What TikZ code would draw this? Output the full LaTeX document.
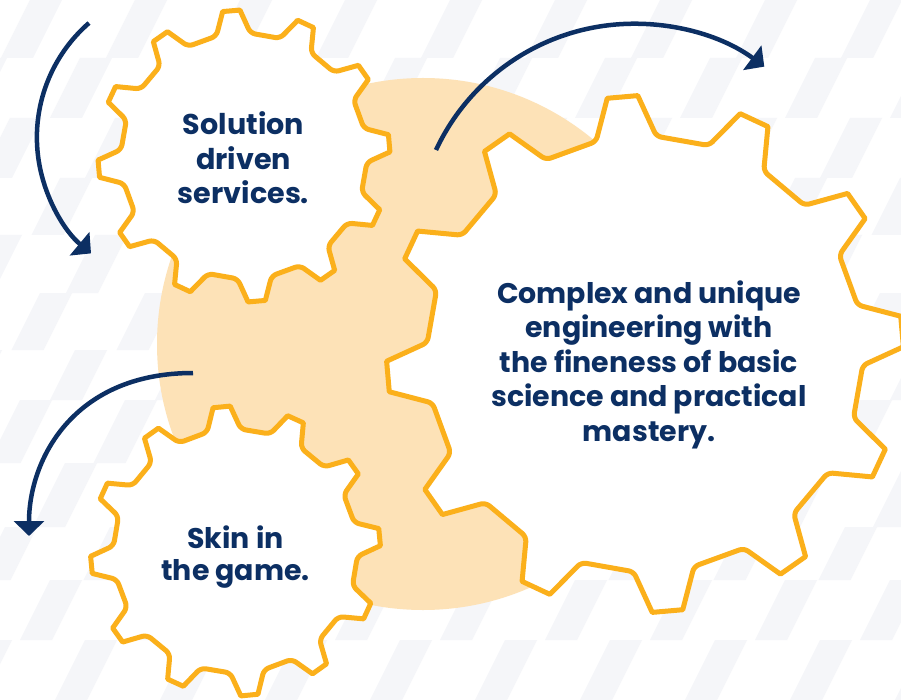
\documentclass[tikz,border=0pt]{standalone}
\usepackage{fontspec}
\setmainfont{Poppins}
\usetikzlibrary{arrows.meta}
\definecolor{gearor}{HTML}{FBB01B}
\definecolor{peach}{HTML}{FDE2B7}
\definecolor{navy}{HTML}{0C2F63}
\definecolor{stripe}{HTML}{F5F6F9}
% gear: #1 cx, #2 cy, #3 r outer, #4 r inner, #5 angle offset
\newcommand{\gp}[3]{({#1+#3*cos(#2)}, {\gcy-#3*sin(#2)})}
\newcommand{\drawgear}[5]{%
  \def\gcy{#2}%
  \draw[gearline] \gp{#1}{#5-3.4}{#3}
  \foreach \k in {0,...,10}{
    -- \gp{#1}{#5+30*\k+3.4}{#3}
    [rounded corners=5pt] -- \gp{#1}{#5+30*\k+8}{#4}
    -- \gp{#1}{#5+30*\k+22}{#4}
    [sharp corners] -- \gp{#1}{#5+30*\k+26.6}{#3}
  }
  -- \gp{#1}{#5+333.4}{#3}
  [rounded corners=5pt] -- \gp{#1}{#5+338}{#4}
  -- \gp{#1}{#5+352}{#4}
  [sharp corners] -- cycle;
}
\begin{document}
\begin{tikzpicture}[x=1pt,y=-1pt,
  gearline/.style={draw=gearor, line width=5pt, fill=white, line join=round},
  rotarrow/.style={draw=navy, line width=4.5pt, -{Triangle[length=15pt,width=30pt]}},
  gearlabel/.style={text=navy, align=center, anchor=base, inner sep=0pt}
]
\clip (0,0) rectangle (901,700);
\fill[white] (0,0) rectangle (901,700);
% background stripes
\foreach \ya/\yb/\off in {0/58/30, 58/118/80, 118/178/10, 178/235/60, 235/293/95, 293/350/40, 350/400/75, 400/463/20, 463/527/65, 527/580/5, 580/640/50, 640/700/85}{
  \foreach \j in {-1,...,9}{
    \fill[stripe] ({\off+105*\j},\ya) -- ({\off+105*\j+32},\ya)
      -- ({\off+105*\j+32-0.5*(\yb-\ya)},\yb) -- ({\off+105*\j-0.5*(\yb-\ya)},\yb) -- cycle;
  }
}
% peach disc
\fill[peach] (423,344) circle[radius=266pt];
% gears
\drawgear{244}{156}{146}{123}{5}
\drawgear{645}{354}{258.5}{218}{5}
\drawgear{235.5}{551}{145}{122}{5.5}
% arrows
\coordinate (a1s) at (89,23);
\coordinate (a2s) at (436,150);
\coordinate (a3s) at (193,373);
\coordinate (a3e) at (29,536);
\draw[rotarrow] (a1s) arc[start angle=131, end angle=230, radius=151.5pt];
\draw[rotarrow] (a2s) arc[start angle=155, end angle=53.5, radius=218.7pt];
\draw[rotarrow] (a3s) .. controls (73,373) and (29,460) .. (a3e);
% texts (base anchor = baseline of last line)
\node[gearlabel, font=\fontsize{28.6}{34.5}\selectfont\bfseries] (t1) at (243.5,204) {Solution\\driven\\services.};
\node[gearlabel, font=\fontsize{28.4}{34.5}\selectfont\bfseries] (t2) at (649,441) {Complex and unique\\engineering with\\the fineness of basic\\science and practical\\mastery.};
\node[gearlabel, font=\fontsize{28.4}{31.7}\selectfont\bfseries] (t3) at (235.5,580.5) {Skin in\\the game.};
\end{tikzpicture}
\end{document}
